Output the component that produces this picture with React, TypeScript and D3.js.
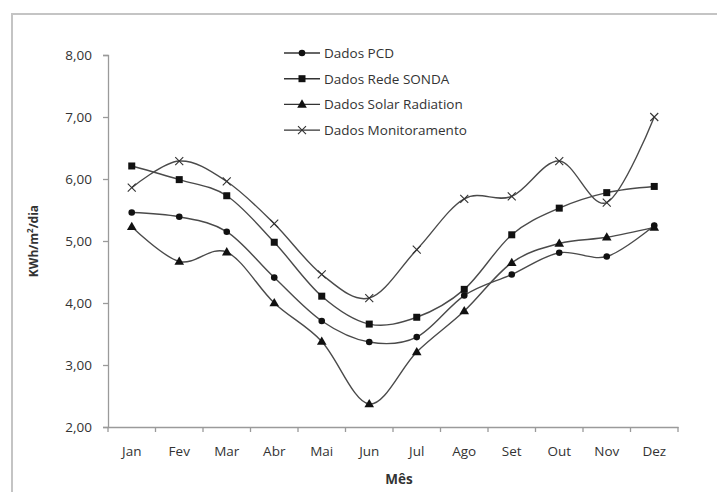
import { useRef, useEffect } from "react";
import * as d3 from "d3";

const months = ["Jan", "Fev", "Mar", "Abr", "Mai", "Jun", "Jul", "Ago", "Set", "Out", "Nov", "Dez"];
const yTicks = [2, 3, 4, 5, 6, 7, 8];

const pcd = [5.46, 5.39, 5.15, 4.41, 3.71, 3.37, 3.45, 4.12, 4.46, 4.81, 4.75, 5.25];
const sonda = [6.21, 5.99, 5.73, 4.98, 4.11, 3.66, 3.77, 4.22, 5.1, 5.53, 5.78, 5.88];
const solar = [5.23, 4.67, 4.82, 4.0, 3.38, 2.37, 3.21, 3.87, 4.65, 4.96, 5.06, 5.22];
const monit = [5.86, 6.29, 5.96, 5.28, 4.46, 4.08, 4.86, 5.68, 5.72, 6.29, 5.62, 7.0];

const seriesNames = ["Dados PCD", "Dados Rede SONDA", "Dados Solar Radiation", "Dados Monitoramento"];
const seriesMarkers = ["circle", "square", "triangle", "cross"];

const W = 717;
const H = 492;
const M = { left: 108, right: 39, top: 55, bottom: 65 };
const FONT = "'Open Sans', 'Liberation Sans', sans-serif";

function drawMarker(g: d3.Selection<SVGGElement, unknown, null, undefined>, kind: string, x: number, y: number) {
    if (kind === "circle") {
        g.append("circle").attr("cx", x).attr("cy", y).attr("r", 3.3).attr("fill", "#111");
    } else if (kind === "square") {
        g.append("rect").attr("x", x - 3.5).attr("y", y - 3.5).attr("width", 7).attr("height", 7).attr("fill", "#111");
    } else if (kind === "triangle") {
        const sym = d3.symbol(d3.symbolTriangle, 40)();
        g.append("path").attr("d", sym).attr("transform", `translate(${x},${y + 0.5})`).attr("fill", "#111");
    } else {
        g.append("path")
            .attr("d", `M${x - 4},${y - 4}L${x + 4},${y + 4}M${x - 4},${y + 4}L${x + 4},${y - 4}`)
            .attr("stroke", "#333").attr("stroke-width", 1.1);
    }
}

export default function App() {
    const ref = useRef<SVGSVGElement>(null);

    useEffect(() => {
        const svg = d3.select(ref.current);
        svg.selectAll("*").remove();

        // outer frame
        svg.append("path")
            .attr("d", `M12,${H + 5}L12,14L${W + 5},14`)
            .attr("fill", "none").attr("stroke", "#c4c4c4").attr("stroke-width", 2);

        const x = d3.scaleBand().domain(months).range([M.left, W - M.right]);
        const y = d3.scaleLinear().domain([2, 8]).range([H - M.bottom, M.top]);

        const axisColor = "#9a9a9a";

        // y axis
        const ya = svg.append("g").attr("transform", `translate(${M.left},0)`)
            .call(d3.axisLeft(y).tickValues(yTicks).tickSize(5).tickFormat(d => d3.format(".2f")(d as number).replace(".", ",")));
        ya.select(".domain").attr("stroke", axisColor).attr("stroke-width", 1.3);
        ya.selectAll(".tick line").attr("stroke", axisColor).attr("stroke-width", 1.3);
        ya.selectAll(".tick text").attr("font-family", FONT).attr("font-size", 13.5).attr("fill", "#333").attr("x", -16);

        // x axis
        const xa = svg.append("g").attr("transform", `translate(0,${H - M.bottom})`)
            .call(d3.axisBottom(x).tickSize(0).tickPadding(19));
        xa.select(".domain").attr("stroke", axisColor).attr("stroke-width", 1.3);
        xa.selectAll(".tick text").attr("font-family", FONT).attr("font-size", 13.5).attr("fill", "#333");
        const edges = months.map(m => x(m)!).concat([x.range()[1]]);
        svg.append("g").selectAll("line").data(edges).join("line")
            .attr("x1", d => d).attr("x2", d => d)
            .attr("y1", H - M.bottom).attr("y2", H - M.bottom + 5)
            .attr("stroke", axisColor).attr("stroke-width", 1.3);

        // axis titles
        svg.append("text").attr("x", (M.left + W - M.right) / 2 + 6).attr("y", 484)
            .attr("text-anchor", "middle").attr("font-family", FONT).attr("font-size", 13.5)
            .attr("font-weight", "bold").attr("fill", "#333").text("Mês");
        const yt = svg.append("text").attr("transform", `translate(38,${(M.top + H - M.bottom) / 2}) rotate(-90)`)
            .attr("text-anchor", "middle").attr("font-family", FONT).attr("font-size", 12)
            .attr("font-weight", "bold").attr("fill", "#333");
        yt.append("tspan").text("KWh/m");
        yt.append("tspan").attr("font-size", 8).attr("dy", -5).text("2");
        yt.append("tspan").attr("dy", 5).text("/dia");

        // lines
        const allSeries = [pcd, sonda, solar, monit];
        const cx = (i: number) => x(months[i])! + x.bandwidth() / 2;
        const line = d3.line<number>().x((_, i) => cx(i)).y(d => y(d)).curve(d3.curveCardinal.tension(0));
        allSeries.forEach((s, k) => {
            svg.append("path").attr("d", line(s)).attr("fill", "none")
                .attr("stroke", "#4a4a4a").attr("stroke-width", 1.4);
            const mg = svg.append("g");
            s.forEach((v, i) => drawMarker(mg, seriesMarkers[k], cx(i), y(v)));
        });

        // legend
        const lg = svg.append("g");
        seriesNames.forEach((name, k) => {
            const ly = 53 + k * 25.7;
            lg.append("line").attr("x1", 284).attr("x2", 320).attr("y1", ly).attr("y2", ly)
                .attr("stroke", "#333").attr("stroke-width", 1.4);
            drawMarker(lg, seriesMarkers[k], 302, ly);
            lg.append("text").attr("x", 324).attr("y", ly + 5).attr("font-family", FONT)
                .attr("font-size", 13.5).attr("fill", "#333").text(name);
        });
    }, []);

    return (
        <svg ref={ref} width={W} height={H}
            style={{ position: "absolute", left: 0, top: 0, background: "#fff", display: "block" }} />
    );
}
